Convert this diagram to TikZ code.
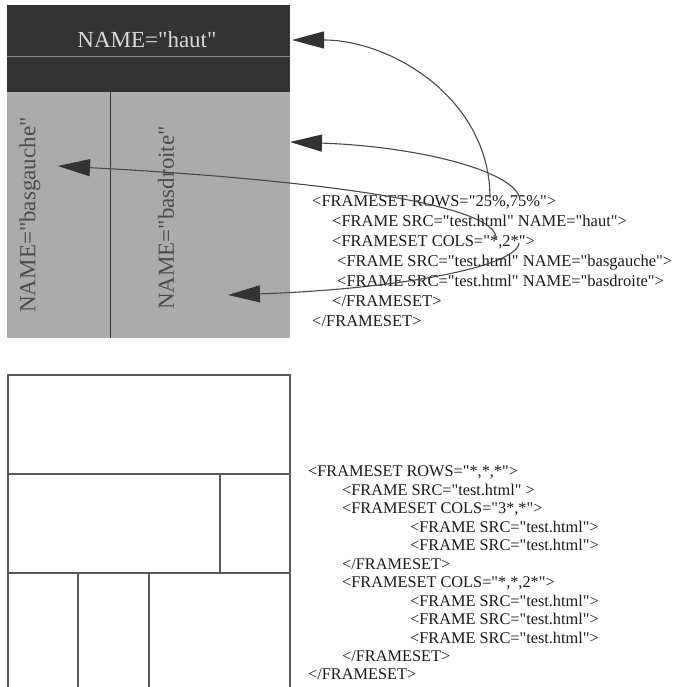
\documentclass[tikz,border=0pt]{standalone}
\usepackage{fontspec}
\setmainfont{Liberation Serif}[Ligatures=TeXOff]
\usepackage{tikz}
\usetikzlibrary{arrows.meta, positioning, calc}
\definecolor{framedark}{HTML}{333333}
\definecolor{framegray}{HTML}{ABABAB}
\definecolor{inkgray}{HTML}{4A4A4A}
\tikzset{
    framebox/.style={rectangle, inner sep=0pt, draw=none},
    framename/.style={font=\fontsize{23}{26}\selectfont, inner sep=0pt},
    code/.style={align=left, anchor=north west, inner sep=0pt, text=black!90},
    link/.style={draw=inkgray, line width=1.1pt, -{Triangle[length=32pt, width=17pt, color=framedark]}},
    gridline/.style={draw=black!65, line width=1.1pt}
}

\begin{document}
\begin{tikzpicture}[x=1pt, y=1pt,
    codetop/.style={code, font=\fontsize{16.5}{20}\selectfont},
    codebottom/.style={code, font=\fontsize{16.3}{18.45}\selectfont}
]
    \useasboundingbox (0,0) rectangle (688,687);

    % Top example: ROWS="25%,75%" then COLS="*,2*"
    \node[framebox, fill=framedark, minimum width=283pt, minimum height=87pt] (haut) at (148.5,638.5) {};
    \node[framebox, fill=framegray, minimum width=103pt, minimum height=246pt] (basgauche) at (58.5,472) {};
    \node[framebox, fill=framegray, minimum width=180pt, minimum height=246pt] (basdroite) at (200,472) {};
    \draw[black!45, line width=0.8pt] ($(haut.west)+(0,-7.5)$) -- ($(haut.east)+(0,-7.5)$);
    \draw[black!80, line width=0.8pt] (basgauche.north east) -- (basgauche.south east);

    % Frame names
    \node[framename, text=black!15] (hautname) at (147,647) {NAME="haut"};
    \node[framename, text=black!70, rotate=90] (gauchename) at (30,472) {NAME="basgauche"};
    \node[framename, text=black!70, rotate=90] (droitename) at (166,469) {NAME="basdroite"};

    % Top example: code
    \node[codetop] (codetop) at (312,491.5) {<FRAMESET ROWS="25\%,75\%">\\
        \hspace*{20pt}<FRAME SRC="test.html" NAME="haut">\\
        \hspace*{20pt}<FRAMESET COLS="*,2*">\\
        \hspace*{25pt}<FRAME SRC="test.html" NAME="basgauche">\\
        \hspace*{25pt}<FRAME SRC="test.html" NAME="basdroite">\\
        \hspace*{20pt}</FRAMESET>\\
        </FRAMESET>};

    % Link ends: values in the code, frames in the layout
    \coordinate (rows25) at (490,489);
    \coordinate (rows75) at (520,488);
    \coordinate (colsone) at (496,447);
    \coordinate (colstwo) at (519,444);
    \coordinate (tiphaut) at (292,647);
    \coordinate (tiplower) at (290,545);
    \coordinate (tipgauche) at (58,521);
    \coordinate (tipdroite) at (228,392);

    \draw[link] (rows25) to[out=90, in=0] (tiphaut);
    \draw[link] (rows75) .. controls +(100:28) and +(-2:130) .. (tiplower);
    \draw[link] (colsone) .. controls +(80:40) and +(-3:220) .. (tipgauche);
    \draw[link] (colstwo) .. controls +(-95:24) and +(2:170) .. (tipdroite);

    % Bottom example: three rows, split 3*,* and *,*,2*
    \draw[gridline] (8,0) |- (290,312) -- (290,0);
    \draw[gridline] (8,213) -- (290,213);
    \draw[gridline] (8,114) -- (290,114);
    \draw[gridline] (220,213) -- (220,114);
    \foreach \xcol in {78,149}
        \draw[gridline] (\xcol,114) -- (\xcol,0);

    % Bottom example: code
    \node[codebottom] (codebottom) at (308,221) {<FRAMESET ROWS="*,*,*">\\
        \hspace*{34pt}<FRAME SRC="test.html" >\\
        \hspace*{34pt}<FRAMESET COLS="3*,*">\\
        \hspace*{102pt}<FRAME SRC="test.html">\\
        \hspace*{102pt}<FRAME SRC="test.html">\\
        \hspace*{34pt}</FRAMESET>\\
        \hspace*{34pt}<FRAMESET COLS="*,*,2*">\\
        \hspace*{102pt}<FRAME SRC="test.html">\\
        \hspace*{102pt}<FRAME SRC="test.html">\\
        \hspace*{102pt}<FRAME SRC="test.html">\\
        \hspace*{34pt}</FRAMESET>\\
        </FRAMESET>};

\end{tikzpicture}
\end{document}
